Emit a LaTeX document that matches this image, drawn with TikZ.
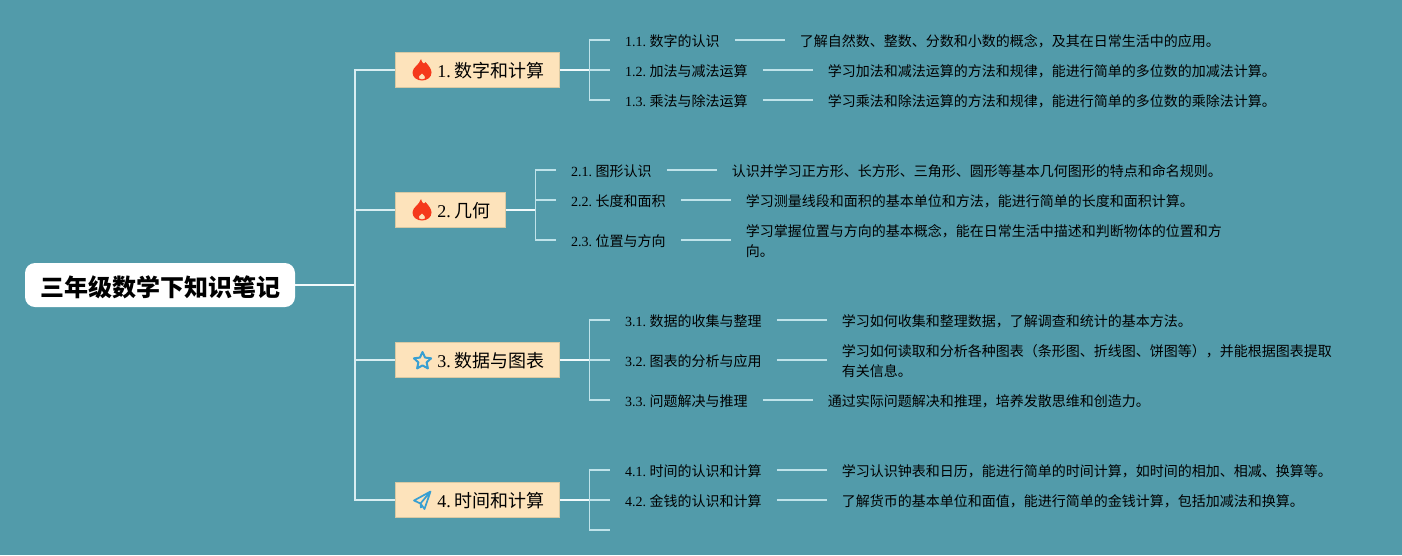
\documentclass[tikz,border=0pt]{standalone}
\usepackage{fontspec}
\setmainfont{Noto Sans CJK SC}
\newfontfamily\lat{Liberation Serif}
\usetikzlibrary{positioning}
\definecolor{bgteal}{HTML}{529BAA}
\definecolor{boxfill}{HTML}{FDE3BB}
\definecolor{boxedge}{HTML}{D9C9A3}
\definecolor{limbcol}{HTML}{F2FAFB}
\definecolor{trunkcol}{HTML}{D8EEF2}
\definecolor{twigcol}{HTML}{BFE3EA}
\definecolor{iconblue}{HTML}{389FD2}
\definecolor{flamered}{HTML}{F5391C}
\tikzset{
  rootbox/.style={draw=none,fill=white,rounded corners=10pt,minimum width=270pt,minimum height=44pt,
    inner sep=0pt,text height=24pt,text depth=2pt,font=\fontsize{24}{28}\selectfont\bfseries},
  branchbox/.style={draw=boxedge,fill=boxfill,line width=0.8pt,anchor=west,minimum height=35.5pt,
    inner xsep=15pt,inner ysep=0pt,text height=17pt,text depth=1.4pt,font=\fontsize{18}{22}\selectfont},
  leaf/.style={inner xsep=15pt,inner ysep=0pt,text height=13pt,text depth=0.4pt,
    font=\fontsize{14}{20}\selectfont},
  info/.style={inner xsep=15pt,inner ysep=0pt,align=left,font=\fontsize{14}{20}\selectfont},
  limb/.style={draw=limbcol,line width=2pt},
  trunk/.style={draw=trunkcol,line width=1.7pt},
  twig/.style={draw=twigcol,line width=1.5pt},
  flame/.pic={
    \fill[flamered,even odd rule]
      (-1,-11) .. controls (0,-7) and (2,-5) .. (3.5,-8) .. controls (7,-4) and (9.5,-1) .. (9.5,2.5)
      .. controls (9.5,7.5) and (5,10.5) .. (0,10.5) .. controls (-5,10.5) and (-9.5,7.5) .. (-9.5,2.5)
      .. controls (-9.5,-3) and (-2.5,-5) .. (-1,-11) -- cycle
      (0,3.5) .. controls (-2.5,5) and (-4,7) .. (-3,8.5) .. controls (-1.5,9.8) and (1.5,9.8) .. (3,8.5)
      .. controls (4,7) and (2,5) .. (0,3.5) -- cycle;
  },
  staricon/.pic={
    \draw[iconblue,line width=2pt,line join=round]
      (0,-9) -- (2.6,-3.4) -- (8.6,-2.7) -- (4.1,1.4) -- (5.4,7.4) -- (0,4.4)
      -- (-5.4,7.4) -- (-4.1,1.4) -- (-8.6,-2.7) -- (-2.6,-3.4) -- cycle;
  },
  planeicon/.pic={
    \draw[iconblue,line width=1.7pt,line join=round]
      (8.5,-8.5) -- (-8,0.5) -- (-1.5,3.5) -- (2.5,9) -- cycle
      (8.5,-8.5) -- (-1.5,3.5) -- (-1,8);
  }
}
\begin{document}
\begin{tikzpicture}[x=1pt,y=-1pt]
  \useasboundingbox[fill=bgteal] (0,0) rectangle (1402,555);

  \node[rootbox] (root) at (160,285) {三年级数学下知识笔记};
  \coordinate[right=60pt of root] (hub);
  \draw[limb] (root) -- (hub);

  \foreach \n/\yy/\lab in {1/70/{{\lat 1.\hspace{.19em}}数字和计算},2/210/{{\lat 2.\hspace{.19em}}几何},
      3/360/{{\lat 3.\hspace{.19em}}数据与图表},4/500/{{\lat 4.\hspace{.19em}}时间和计算}} {
    \node[branchbox] (b\n) at (395,\yy) {\hspace*{27pt}\lab};
    \coordinate[right=30pt of b\n] (j\n);
    \draw[trunk] (hub) |- (b\n);
    \draw[limb] (b\n) -- (j\n);
  }

  \path (b1.west) ++(27,0) pic {flame};
  \path (b2.west) ++(27,0) pic {flame};
  \path (b3.west) ++(27.5,1) pic {staricon};
  \path (b4.west) ++(27,0) pic {planeicon};

  % topics and their notes
  \foreach \n/\j/\x/\yy/\num/\lab/\txt in {
      11/j1/590/40/1.1./数字的认识/了解自然数、整数、分数和小数的概念，及其在日常生活中的应用。,
      12/j1/590/70/1.2./加法与减法运算/学习加法和减法运算的方法和规律，能进行简单的多位数的加减法计算。,
      13/j1/590/100/1.3./乘法与除法运算/学习乘法和除法运算的方法和规律，能进行简单的多位数的乘除法计算。,
      21/j2/536/170/2.1./图形认识/认识并学习正方形、长方形、三角形、圆形等基本几何图形的特点和命名规则。,
      22/j2/536/200/2.2./长度和面积/学习测量线段和面积的基本单位和方法，能进行简单的长度和面积计算。,
      23/j2/536/240/2.3./位置与方向/{学习掌握位置与方向的基本概念，能在日常生活中描述和判断物体的位置和方\\向。},
      31/j3/590/320/3.1./数据的收集与整理/学习如何收集和整理数据，了解调查和统计的基本方法。,
      32/j3/590/360/3.2./图表的分析与应用/{学习如何读取和分析各种图表（条形图、折线图、饼图等），并能根据图表提取\\有关信息。},
      33/j3/590/400/3.3./问题解决与推理/通过实际问题解决和推理，培养发散思维和创造力。,
      41/j4/590/470/4.1./时间的认识和计算/学习认识钟表和日历，能进行简单的时间计算，如时间的相加、相减、换算等。,
      42/j4/590/500/4.2./金钱的认识和计算/了解货币的基本单位和面值，能进行简单的金钱计算，包括加减法和换算。} {
    \node[leaf,anchor=west] (t\n) at (\x+20,\yy) {{\lat\num\hspace{.24em}}\lab};
    \node[info,right=50pt of t\n,yshift=-1pt] (d\n) {\txt};
    \draw[twig] (\j) |- (t\n.west);
    \draw[twig] (t\n) -- (d\n.west |- t\n);
  }

  % last branch has one empty slot
  \coordinate (e43) at (610,530);
  \draw[twig] (j4) |- (e43);
\end{tikzpicture}
\end{document}
